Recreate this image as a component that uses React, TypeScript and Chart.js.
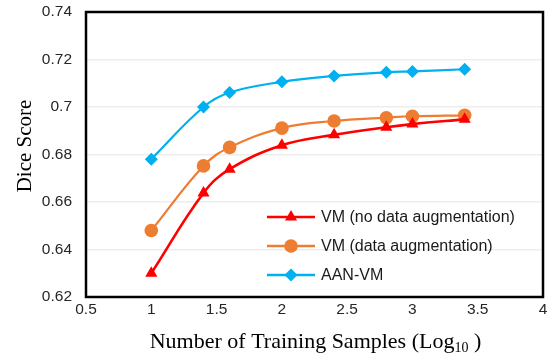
import React, { useEffect, useRef } from "react";
import { Chart, registerables } from "chart.js";

Chart.register(...registerables);

const xValues = [1, 1.4, 1.6, 2, 2.4, 2.8, 3, 3.4];
const vmNoAug = [0.630, 0.6638, 0.6738, 0.6839, 0.6883, 0.6915, 0.6928, 0.6948];
const vmAug = [0.648, 0.6752, 0.683, 0.6911, 0.6941, 0.6955, 0.6961, 0.6965];
const aanVm = [0.678, 0.700, 0.7061, 0.7106, 0.7131, 0.7146, 0.7150, 0.7159];

const seriesNames = ["VM (no data augmentation)", "VM (data augmentation)", "AAN-VM"];
const seriesColors = ["#FF0000", "#ED7D31", "#00B0F0"];
const seriesMarkers = ["triangle", "circle", "rectRot"];
const markerRadii = [7, 6.8, 6.5];

const xTitle = "Number of Training Samples (Log";
const xTitleSub = "10";
const xTitleEnd = " )";
const yTitle = "Dice Score";

function drawMarker(ctx: CanvasRenderingContext2D, style: string, x: number, y: number, r: number) {
  ctx.beginPath();
  if (style === "circle") {
    ctx.arc(x, y, r, 0, Math.PI * 2);
  } else if (style === "triangle") {
    let rad = 0;
    ctx.moveTo(x + Math.sin(rad) * r, y - Math.cos(rad) * r);
    rad += (2 * Math.PI) / 3;
    ctx.lineTo(x + Math.sin(rad) * r, y - Math.cos(rad) * r);
    rad += (2 * Math.PI) / 3;
    ctx.lineTo(x + Math.sin(rad) * r, y - Math.cos(rad) * r);
    ctx.closePath();
  } else {
    ctx.moveTo(x, y - r);
    ctx.lineTo(x + r, y);
    ctx.lineTo(x, y + r);
    ctx.lineTo(x - r, y);
    ctx.closePath();
  }
  ctx.fill();
}

const decorPlugin = {
  id: "decor",
  afterDraw(chart: any) {
    const ctx: CanvasRenderingContext2D = chart.ctx;
    const a = chart.chartArea;
    ctx.save();
    // frame
    ctx.strokeStyle = "#000";
    ctx.lineWidth = 2.5;
    ctx.strokeRect(a.left, a.top, a.right - a.left, a.bottom - a.top);

    // legend
    const lx0 = a.left + 181;
    const lx1 = a.left + 229;
    const tx = a.left + 235;
    for (let i = 0; i < seriesNames.length; i++) {
      const y = a.top + 205 + i * 29;
      ctx.strokeStyle = seriesColors[i];
      ctx.fillStyle = seriesColors[i];
      ctx.lineWidth = 2.5;
      ctx.beginPath();
      ctx.moveTo(lx0, y);
      ctx.lineTo(lx1, y);
      ctx.stroke();
      drawMarker(ctx, seriesMarkers[i], (lx0 + lx1) / 2, y, markerRadii[i]);
      ctx.fillStyle = "#1a1a1a";
      ctx.font = '16px "Liberation Sans", Arial, sans-serif';
      ctx.textAlign = "left";
      ctx.textBaseline = "middle";
      ctx.fillText(seriesNames[i], tx, y + 1);
    }

    // x title
    ctx.fillStyle = "#000";
    ctx.textBaseline = "alphabetic";
    const mainFont = '22px "Liberation Serif", "Times New Roman", serif';
    const subFont = '14px "Liberation Serif", "Times New Roman", serif';
    ctx.font = mainFont;
    const w1 = ctx.measureText(xTitle).width;
    const w3 = ctx.measureText(xTitleEnd).width;
    ctx.font = subFont;
    const w2 = ctx.measureText(xTitleSub).width;
    const total = w1 + w2 + w3;
    const cx = (a.left + a.right) / 2 + 1;
    let x = cx - total / 2;
    const by = 348;
    ctx.textAlign = "left";
    ctx.font = mainFont;
    ctx.fillText(xTitle, x, by);
    x += w1;
    ctx.font = subFont;
    ctx.fillText(xTitleSub, x, by + 4);
    x += w2;
    ctx.font = mainFont;
    ctx.fillText(xTitleEnd, x, by);

    // y title
    ctx.save();
    ctx.translate(31, 146);
    ctx.rotate(-Math.PI / 2);
    ctx.font = '21px "Liberation Serif", "Times New Roman", serif';
    ctx.textAlign = "center";
    ctx.fillText(yTitle, 0, 0);
    ctx.restore();

    ctx.restore();
  },
};

export default function App() {
  const ref = useRef<HTMLCanvasElement | null>(null);
  useEffect(() => {
    if (!ref.current) return;
    const allSeries = [vmNoAug, vmAug, aanVm];
    const chart = new Chart(ref.current, {
      type: "line",
      data: {
        datasets: allSeries.map((vals, i) => ({
          label: seriesNames[i],
          data: xValues.map((xv, j) => ({ x: xv, y: vals[j] })),
          borderColor: seriesColors[i],
          backgroundColor: seriesColors[i],
          borderWidth: i === 0 ? 2.6 : 2.2,
          pointStyle: seriesMarkers[i] as any,
          pointRadius: markerRadii[i],
          pointBorderWidth: 0,
          pointBackgroundColor: seriesColors[i],
          tension: 0.4,
          fill: false,
        })),
      },
      options: {
        animation: false,
        responsive: true,
        maintainAspectRatio: false,
        layout: { padding: { left: 0, right: 0, top: 12, bottom: 0 } },
        plugins: {
          legend: { display: false },
          tooltip: { enabled: false },
        },
        scales: {
          x: {
            type: "linear",
            min: 0.5,
            max: 4,
            ticks: {
              stepSize: 0.5,
              padding: 0,
              color: "#262626",
              font: { family: '"Liberation Sans", Arial, sans-serif', size: 15.5 },
              callback: (v: any) => String(Number(Number(v).toFixed(2))),
            },
            grid: { display: false, drawTicks: true, tickLength: 3, tickColor: "rgba(0,0,0,0)" },
            border: { display: false },
            afterFit: (s: any) => {
              s.height = 61;
            },
          },
          y: {
            min: 0.62,
            max: 0.74,
            ticks: {
              stepSize: 0.02,
              padding: 0,
              color: "#262626",
              font: { family: '"Liberation Sans", Arial, sans-serif', size: 15.5 },
              callback: (v: any) => String(Number(Number(v).toFixed(2))),
            },
            grid: { color: "#EDEDED", lineWidth: 1.5, drawTicks: true, tickLength: 14, tickColor: "rgba(0,0,0,0)" },
            border: { display: false },
            afterFit: (s: any) => {
              s.width = 86;
            },
          },
        },
      },
      plugins: [decorPlugin],
    });
    return () => chart.destroy();
  }, []);
  return (
    <div style={{ position: "fixed", left: 0, top: 0, width: 548, height: 358, overflow: "hidden", background: "#fff" }}>
      <div style={{ position: "absolute", left: 0, top: 0, width: 550, height: 358 }}>
        <canvas ref={ref} />
      </div>
    </div>
  );
}
